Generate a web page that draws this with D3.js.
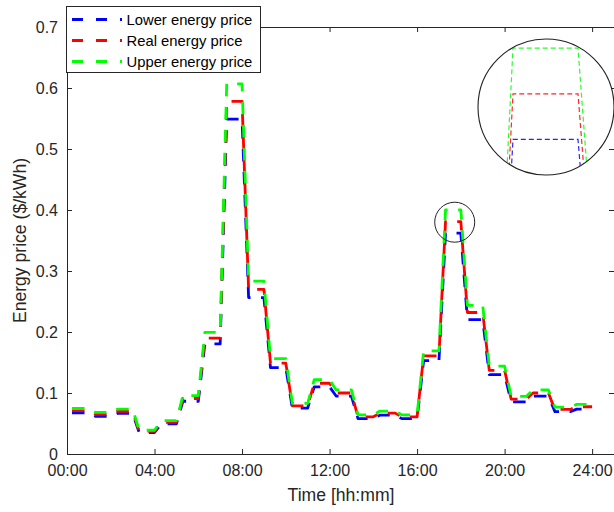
<!DOCTYPE html>
<html>
<head>
<meta charset="utf-8">
<script src="https://cdn.jsdelivr.net/npm/d3@7/dist/d3.min.js"></script>
<style>
  html, body { margin: 0; padding: 0; background: #fff; }
  svg { display: block; font-family: "Liberation Sans", Arial, sans-serif; }
</style>
</head>
<body>
<svg id="chart" width="614" height="512"></svg>
<script>
// ---------- data (hourly prices, $/kWh) ----------
const hourStart = [0,1,2,3,4,5,6,7,8,9,10,11,12,13,14,15,16,17,18,19,20,21,22,23];
const lowerPrice = [0.0675,0.0618,0.0665,0.0352,0.0494,0.0865,0.1805,0.5491,0.2565,0.1416,0.0751,0.1102,
                    0.0950,0.0580,0.0637,0.0580,0.1530,0.3620,0.2204,0.1302,0.0855,0.0950,0.0694,0.0736];
const realPrice  = [0.0710,0.0650,0.0700,0.0370,0.0520,0.0910,0.1900,0.5780,0.2700,0.1490,0.0790,0.1160,
                    0.1000,0.0610,0.0670,0.0610,0.1610,0.3810,0.2320,0.1370,0.0900,0.1000,0.0730,0.0775];
const upperPrice = [0.0746,0.0683,0.0735,0.0389,0.0546,0.0956,0.1995,0.6069,0.2835,0.1565,0.0830,0.1218,
                    0.1050,0.0641,0.0704,0.0641,0.1691,0.4001,0.2436,0.1439,0.0945,0.1050,0.0767,0.0814];
const seriesNames = ["Lower energy price", "Real energy price", "Upper energy price"];
const xTickValues = [0,4,8,12,16,20,24];
const xTickLabels = ["00:00","04:00","08:00","12:00","16:00","20:00","24:00"];
const yTickValues = [0,0.1,0.2,0.3,0.4,0.5,0.6,0.7];
const yTickLabels = ["0","0.1","0.2","0.3","0.4","0.5","0.6","0.7"];
const xLabel = "Time [hh:mm]";
const yLabel = "Energy price ($/kWh)";
const zoomCenter = [17.72, 0.380];   // highlighted peak (hour, price)
const insetDomainX = [17.3, 18.0];
const insetDomainY = [0.362, 0.4];

// ---------- styles / layout ----------
const colors = ["#0000ff", "#ff0000", "#00ff00"];
const axisColor = "#262626";
const RAMP = 0.3; // transition width between hourly steps (h)
const L = 67, R = 614, T = 27, B = 454;

const svg = d3.select("#chart");
const x = d3.scaleLinear().domain([0, 25]).range([L, R]);
const y = d3.scaleLinear().domain([0, 0.7]).range([B, T]);

function stepPoints(vals) {
  const pts = [[hourStart[0], vals[0]]];
  for (let i = 1; i < vals.length; i++) {
    pts.push([hourStart[i], vals[i - 1]]);
    pts.push([hourStart[i] + RAMP, vals[i]]);
  }
  pts.push([hourStart[vals.length - 1] + 1, vals[vals.length - 1]]);
  return pts;
}
const allSeries = [lowerPrice, realPrice, upperPrice];

// ---------- axes ----------
const fontTick = 16;
const xAxis = d3.axisBottom(x).tickValues(xTickValues).tickFormat((d, i) => xTickLabels[i])
  .tickSizeInner(-5).tickSizeOuter(0).tickPadding(11);
const yAxis = d3.axisLeft(y).tickValues(yTickValues).tickFormat((d, i) => yTickLabels[i])
  .tickSizeInner(-5).tickSizeOuter(0).tickPadding(9);
const xAxisTop = d3.axisTop(x).tickValues(xTickValues).tickFormat("").tickSizeInner(-5).tickSizeOuter(0);
const yAxisRight = d3.axisRight(y).tickValues(yTickValues).tickFormat("").tickSizeInner(-5).tickSizeOuter(0);

function styleAxis(g) {
  g.selectAll("path, line").attr("stroke", axisColor).attr("stroke-width", 1);
  g.selectAll("text").attr("fill", axisColor).attr("font-size", fontTick)
    .attr("font-family", "Liberation Sans, Arial, sans-serif");
}
svg.append("g").attr("transform", `translate(0,${B})`).call(xAxis).call(styleAxis);
svg.append("g").attr("transform", `translate(${L},0)`).call(yAxis).call(styleAxis);
svg.append("g").attr("transform", `translate(0,${T})`).call(xAxisTop).call(styleAxis);
svg.append("g").attr("transform", `translate(${R},0)`).call(yAxisRight).call(styleAxis);

// axis titles
svg.append("text").attr("x", (L + R) / 2 + 0.5).attr("y", 501)
  .attr("text-anchor", "middle").attr("font-size", 17.6).attr("fill", axisColor).text(xLabel);
svg.append("text").attr("transform", `translate(25.5,${(T + B) / 2}) rotate(-90)`)
  .attr("text-anchor", "middle").attr("font-size", 17.6).attr("fill", axisColor).text(yLabel);

// ---------- main lines ----------
const line = d3.line().x(d => x(d[0])).y(d => y(d[1]));
allSeries.forEach((vals, k) => {
  svg.append("path").attr("d", line(stepPoints(vals)))
    .attr("fill", "none").attr("stroke", colors[k]).attr("stroke-width", 2.8)
    .attr("stroke-dasharray", "12.5,10.5").attr("stroke-dashoffset", 18)
    .attr("stroke-linejoin", "round");
});

// small highlight circle
svg.append("circle").attr("cx", x(zoomCenter[0])).attr("cy", y(zoomCenter[1])).attr("r", 20)
  .attr("fill", "none").attr("stroke", "#222").attr("stroke-width", 1);

// ---------- inset ----------
const insetC = [546, 107], insetR = 68;
const xi = d3.scaleLinear().domain(insetDomainX).range([513, 578]);
const yi = d3.scaleLinear().domain(insetDomainY).range([139.3, 48.3]);
svg.append("clipPath").attr("id", "insetClip").append("circle")
  .attr("cx", insetC[0]).attr("cy", insetC[1]).attr("r", insetR);
svg.append("circle").attr("cx", insetC[0]).attr("cy", insetC[1]).attr("r", insetR).attr("fill", "#fff");
const lineIn = d3.line().x(d => xi(d[0])).y(d => yi(d[1]));
const insetG = svg.append("g").attr("clip-path", "url(#insetClip)");
allSeries.forEach((vals, k) => {
  insetG.append("path").attr("d", lineIn(stepPoints(vals)))
    .attr("fill", "none").attr("stroke", colors[k]).attr("stroke-width", 1.2)
    .attr("stroke-dasharray", "5,3").attr("opacity", 0.85);
});
svg.append("circle").attr("cx", insetC[0]).attr("cy", insetC[1]).attr("r", insetR)
  .attr("fill", "none").attr("stroke", "#222").attr("stroke-width", 1.1);

// ---------- legend ----------
const lg = svg.append("g");
lg.append("rect").attr("x", 66.5).attr("y", 6.5).attr("width", 194).attr("height", 66)
  .attr("fill", "#fff").attr("stroke", axisColor).attr("stroke-width", 1);
seriesNames.forEach((name, k) => {
  const cy = 19.5 + k * 21;
  lg.append("line").attr("x1", 72).attr("x2", 122).attr("y1", cy).attr("y2", cy)
    .attr("stroke", colors[k]).attr("stroke-width", 2.8).attr("stroke-dasharray", "11,13");
  lg.append("text").attr("x", 126.5).attr("y", cy).attr("dy", "0.36em")
    .attr("font-size", 14.8).attr("fill", "#000").text(name);
});
</script>
</body>
</html>
